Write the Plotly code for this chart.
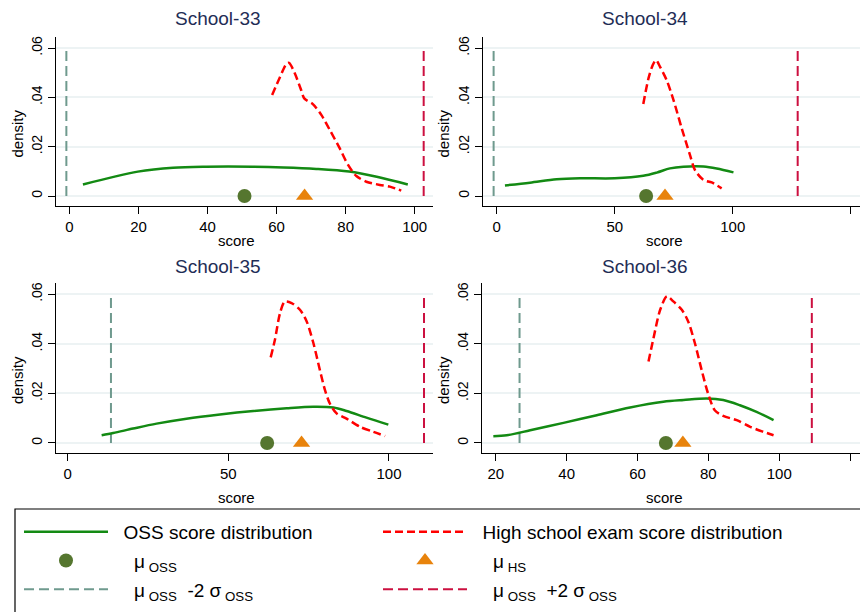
import plotly.graph_objects as go

# ---------------- data ----------------
schools = ["School-33", "School-34", "School-35", "School-36"]

s33_oss_x = [3.9, 19.8, 30, 39.6, 53, 62, 71.5, 81, 89, 98]
s33_oss_y = [.0047, .0099, .0115, .0119, .0119, .0116, .011, .0099, .0078, .0047]
s33_hs_x = [58.7, 60.9, 62.8, 63.6, 65.2, 67.1, 68, 70.5, 73, 75.4, 78.3, 80.7, 83.1, 86, 89.9, 92.8, 96.1]
s33_hs_y = [.041, .048, .0535, .054, .050, .043, .0396, .0373, .0328, .0268, .0193, .0126, .0081, .0058, .0045, .0038, .0022]

s34_oss_x = [3.5, 14.1, 25.4, 35.3, 50, 62.1, 67.8, 73.4, 79.1, 87.6, 93.2, 100.3]
s34_oss_y = [.0043, .0054, .0068, .0072, .0072, .0082, .0095, .0112, .0119, .012, .0112, .0096]
s34_hs_x = [62.1, 64.3, 66.1, 67.5, 69.2, 72, 74.9, 78.4, 81.9, 84, 87.6, 91.1, 95.3]
s34_hs_y = [.0373, .0477, .0531, .0551, .0524, .047, .0389, .0274, .0166, .0105, .0065, .0055, .0031]

s35_oss_x = [10.6, 14.2, 20.4, 27.7, 37, 47.4, 57.8, 68.2, 76.5, 82.7, 86.8, 93, 99.8]
s35_oss_y = [.0031, .004, .0058, .0078, .0098, .0115, .0129, .014, .0146, .0143, .0129, .0102, .0074]
s35_hs_x = [63.2, 64.5, 66.1, 67.6, 69.7, 72.3, 74.4, 76.5, 78.5, 80.1, 81.6, 83.7, 86.8, 91, 95.1, 98.8]
s35_hs_y = [.0345, .0415, .0523, .057, .0564, .0537, .049, .0402, .0294, .0213, .0159, .0119, .0098, .0065, .0045, .0028]

s36_oss_x = [19.3, 23.1, 29.7, 39.1, 48.5, 57.9, 67.3, 73, 79.5, 84.2, 88.9, 93.6, 98.4]
s36_oss_y = [.0027, .0031, .0051, .0081, .0112, .0143, .0166, .0173, .0179, .0173, .0152, .0125, .0092]
s36_hs_x = [63.1, 64.5, 66.4, 68.3, 70.1, 72.5, 74.3, 76.2, 78.1, 79.9, 81.8, 84.2, 88, 91.8, 95.5, 98.4]
s36_hs_y = [.0328, .0422, .0537, .0591, .0571, .0537, .049, .0402, .0294, .02, .0132, .0109, .0092, .0065, .0045, .0031]

mu_oss = [50.7, 63.3, 62.1, 68.0]
mu_hs = [68.1, 71.3, 72.8, 72.8]
lower_2sd = [-0.9, -1.3, 13.5, 26.7]
upper_2sd = [102.6, 127.5, 110.9, 109.2]

x_ticks = [[0, 20, 40, 60, 80, 100], [0, 50, 100, 150], [0, 50, 100], [20, 40, 60, 80, 100, 120]]
x_ranges = [[-3.9, 105.3], [-5.8, 153.9], [-3.6, 113.7], [16.1, 122.8]]
y_ticks = [0, .02, .04, .06]
y_ticklabels = ["0", ".02", ".04", ".06"]
y_line_top = .06

oss_x = [s33_oss_x, s34_oss_x, s35_oss_x, s36_oss_x]
oss_y = [s33_oss_y, s34_oss_y, s35_oss_y, s36_oss_y]
hs_x = [s33_hs_x, s34_hs_x, s35_hs_x, s36_hs_x]
hs_y = [s33_hs_y, s34_hs_y, s35_hs_y, s36_hs_y]

NB = "\u00a0"
names = [NB * 2 + "OSS score distribution", NB * 2 + "High school exam score distribution",
         NB * 4 + "μ<sub> OSS</sub>", NB * 4 + "μ<sub> HS</sub>",
         NB * 4 + "μ<sub> OSS</sub>  -2 σ<sub> OSS</sub>", NB * 4 + "μ<sub> OSS</sub>  +2 σ<sub> OSS</sub>"]

# ---------------- style ----------------
FONT = "Liberation Sans, Arial, sans-serif"
W, H = 860, 612
GREEN = "#138a13"
RED = "#ff0000"
DOT = "#55762f"
TRI = "#e8830c"
LOWC = "#6f9a8e"
UPC = "#cc1040"
GRID = "#edf3f4"

# pixel layout of the four plot regions (left, right, top, bottom)
boxes = [(56, 433, 37, 206), (483, 860, 37, 206), (56, 433, 283, 453), (482, 860, 283, 453)]
title_pos = [(218, 18), (645, 18), (218, 266), (645, 266)]
xtitle_pos = [(236, 241), (664, 241), (237, 497), (664, 497)]

fig = go.Figure()
for i in range(4):
    xa = "x" if i == 0 else f"x{i+1}"
    ya = "y" if i == 0 else f"y{i+1}"
    show = i == 0
    common = dict(showlegend=show, xaxis=xa, yaxis=ya)
    # vertical ±2σ lines
    fig.add_trace(go.Scatter(x=[lower_2sd[i], lower_2sd[i]], y=[0, y_line_top], mode="lines",
                             line=dict(color=LOWC, width=2, dash="10px,5px"),
                             name=names[4], legend="legend", legendgroup="c", legendrank=3, **common))
    fig.add_trace(go.Scatter(x=[upper_2sd[i], upper_2sd[i]], y=[0, y_line_top], mode="lines",
                             line=dict(color=UPC, width=2, dash="10px,5px"),
                             name=names[5], legend="legend2", legendgroup="f", legendrank=3, **common))
    fig.add_trace(go.Scatter(x=oss_x[i], y=oss_y[i], mode="lines",
                             line=dict(color=GREEN, width=2.5, shape="spline", smoothing=0.9),
                             name=names[0], legend="legend", legendgroup="a", legendrank=1, **common))
    fig.add_trace(go.Scatter(x=hs_x[i], y=hs_y[i], mode="lines",
                             line=dict(color=RED, width=2.5, dash="8px,4px", shape="spline", smoothing=0.8),
                             name=names[1], legend="legend2", legendgroup="d", legendrank=1, **common))
    fig.add_trace(go.Scatter(x=[mu_oss[i]], y=[0], mode="markers",
                             marker=dict(color=DOT, size=14, symbol="circle"),
                             name=names[2], legend="legend", legendgroup="b", legendrank=2, **common))
    fig.add_trace(go.Scatter(x=[mu_hs[i]], y=[0], mode="markers",
                             marker=dict(color=TRI, size=15, symbol="triangle-up"),
                             name=names[3], legend="legend2", legendgroup="e", legendrank=2, **common))

layout = dict(width=W, height=H, margin=dict(l=0, r=0, t=0, b=0, autoexpand=False),
              paper_bgcolor="white", plot_bgcolor="white",
              font=dict(family=FONT, color="black"))
annotations = []
for i in range(4):
    l, r, t, b = boxes[i]
    k = "" if i == 0 else str(i + 1)
    layout["xaxis" + k] = dict(domain=[l / W, r / W], range=x_ranges[i], anchor="y" + k,
                               showline=True, linecolor="black", linewidth=1,
                               ticks="outside", ticklen=7, tickcolor="black",
                               tickvals=x_ticks[i], tickfont=dict(size=15, family=FONT),
                               showgrid=False, zeroline=False)
    layout["yaxis" + k] = dict(domain=[1 - b / H, 1 - t / H], range=[-0.00405, 0.0645], anchor="x" + k,
                               showline=True, linecolor="black", linewidth=1,
                               ticks="outside", ticklen=7, tickcolor="black",
                               tickvals=y_ticks, ticktext=y_ticklabels, tickangle=-90,
                               tickfont=dict(size=14, family=FONT),
                               showgrid=True, gridcolor=GRID, gridwidth=1.5, zeroline=False)
    tx, ty = title_pos[i]
    annotations.append(dict(text=schools[i], x=tx / W, y=1 - ty / H, xref="paper", yref="paper",
                            showarrow=False, xanchor="center", yanchor="middle",
                            font=dict(size=19, color="#1f2d56", family=FONT)))
    sx, sy = xtitle_pos[i]
    annotations.append(dict(text="score", x=sx / W, y=1 - sy / H, xref="paper", yref="paper",
                            showarrow=False, xanchor="center", yanchor="middle",
                            font=dict(size=15, family=FONT)))
    dx = 17 if l < 100 else 443
    dy = (t + b) / 2 + 12
    annotations.append(dict(text="density", x=dx / W, y=1 - dy / H, xref="paper", yref="paper",
                            showarrow=False, xanchor="center", yanchor="middle", textangle=-90,
                            font=dict(size=15, family=FONT)))
layout["annotations"] = annotations
layout["shapes"] = [dict(type="rect", xref="paper", yref="paper", x0=15 / W, x1=1.05,
                         y0=-0.05, y1=1 - 509 / H, line=dict(color="black", width=1.2),
                         fillcolor="rgba(0,0,0,0)", layer="below")]
leg_common = dict(orientation="v", xanchor="left", yanchor="top",
                  bgcolor="rgba(0,0,0,0)", borderwidth=0, itemwidth=84,
                  traceorder="grouped", tracegroupgap=1,
                  font=dict(size=19, family=FONT, color="black"))
layout["legend"] = dict(x=19 / W, y=1 - 513 / H, **leg_common)
layout["legend2"] = dict(x=378 / W, y=1 - 513 / H, **leg_common)
fig.update_layout(**layout)
fig.write_html("out.html")
